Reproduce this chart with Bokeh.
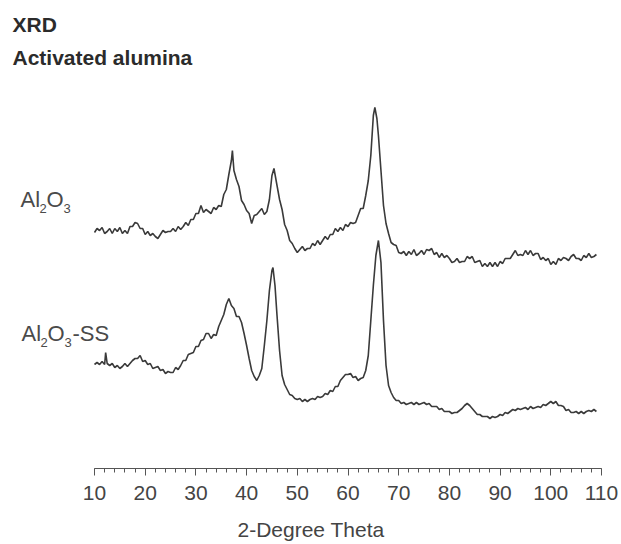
from bokeh.plotting import figure
from bokeh.models import Range1d, FixedTicker, Label, ColumnDataSource
from bokeh.embed import file_html
from bokeh.resources import INLINE

# ---------------- data (arbitrary intensity units) ----------------
al2o3_theta = [10, 10.5, 11, 11.5, 12, 12.5, 13, 13.5, 14, 14.5, 15, 15.5, 16, 16.5, 17, 17.5, 18, 18.5, 19, 19.5,
               20, 20.5, 21, 21.5, 22, 22.5, 23, 23.5, 24, 24.5, 25, 25.5, 26, 26.5, 27, 27.5, 28, 28.5, 29, 29.5,
               30, 30.5, 31, 31.5, 32, 32.5, 33, 33.5, 34, 34.5, 35, 35.5, 36, 36.5, 37, 37.2, 37.5, 38, 38.5, 39, 39.5,
               40, 40.5, 41, 41.5, 42, 42.5, 43, 43.5, 44, 44.5, 45, 45.4, 46, 46.5, 47, 47.5, 48, 48.5, 49, 49.5,
               50, 50.5, 51, 51.5, 52, 52.5, 53, 53.5, 54, 54.5, 55, 55.5, 56, 56.5, 57, 57.5, 58, 58.5, 59, 59.5,
               60, 60.5, 61, 61.5, 62, 62.5, 63, 63.5, 64, 64.5, 65, 65.3, 65.7, 66, 66.5, 67, 67.5, 68, 68.5, 69, 69.5,
               70, 70.5, 71, 71.5, 72, 72.5, 73, 73.5, 74, 74.5, 75, 75.5, 76, 76.5, 77, 77.5, 78, 78.5, 79, 79.5,
               80, 80.5, 81, 81.5, 82, 82.5, 83, 83.5, 84, 84.5, 85, 85.5, 86, 86.5, 87, 87.5, 88, 88.5, 89, 89.5,
               90, 90.5, 91, 91.5, 92, 92.5, 93, 93.5, 94, 94.5, 95, 95.5, 96, 96.5, 97, 97.5, 98, 98.5, 99, 99.5,
               100, 100.5, 101, 101.5, 102, 102.5, 103, 103.5, 104, 104.5, 105, 105.5, 106, 106.5, 107, 107.5, 108, 108.5, 109]
al2o3_int = [46, 50, 48, 51, 45, 47, 50, 45, 50, 47, 51, 45, 48, 45, 52, 52, 56, 55, 50, 50,
             44, 47, 43, 45, 42, 40, 44, 48, 46, 47, 47, 50, 47, 52, 49, 52, 56, 53, 59, 59,
             65, 65, 73, 66, 69, 67, 65, 71, 69, 73, 72, 84, 89, 104, 118, 128, 108, 99, 92, 78, 74,
             68, 65, 55, 63, 64, 67, 70, 64, 67, 79, 103, 110, 93, 79, 69, 54, 48, 38, 35, 30,
             26, 29, 32, 28, 30, 30, 35, 33, 38, 34, 38, 42, 39, 44, 44, 50, 47, 51, 48, 54,
             52, 56, 55, 56, 63, 70, 70, 83, 98, 123, 163, 171, 160, 143, 108, 73, 55, 45, 36, 34, 33,
             26, 25, 27, 23, 27, 24, 29, 23, 25, 28, 24, 29, 28, 30, 24, 26, 21, 25, 21, 23,
             20, 16, 17, 20, 16, 17, 17, 22, 20, 22, 16, 17, 18, 12, 15, 12, 16, 12, 16, 12,
             17, 15, 20, 20, 20, 24, 28, 23, 24, 23, 28, 24, 28, 23, 25, 25, 19, 21, 18, 20,
             14, 17, 14, 20, 18, 21, 20, 18, 22, 24, 20, 20, 18, 23, 21, 25, 21, 22, 24]

ss_theta = [10, 10.5, 11, 11.5, 12, 12.2, 12.5, 13, 13.5, 14, 14.5, 15, 15.5, 16, 16.5, 17, 17.5, 18, 18.5, 19, 19.5,
            20, 20.5, 21, 21.5, 22, 22.5, 23, 23.5, 24, 24.5, 25, 25.5, 26, 26.5, 27, 27.5, 28, 28.5, 29, 29.5,
            30, 30.5, 31, 31.5, 32, 32.5, 33, 33.5, 34, 34.5, 35, 35.5, 36, 36.5, 37, 37.5, 38, 38.5, 39, 39.5,
            40, 40.5, 41, 41.5, 42, 42.5, 43, 43.5, 44, 44.5, 45, 45.2, 45.6, 46, 46.5, 47, 47.5, 48, 48.5, 49, 49.5,
            50, 50.5, 51, 51.5, 52, 52.5, 53, 53.5, 54, 54.5, 55, 55.5, 56, 56.5, 57, 57.5, 58, 58.5, 59, 59.5,
            60, 60.5, 61, 61.5, 62, 62.5, 63, 63.5, 64, 64.5, 65, 65.5, 66, 66.5, 67, 67.5, 68, 68.5, 69, 69.5,
            70, 70.5, 71, 71.5, 72, 72.5, 73, 73.5, 74, 74.5, 75, 75.5, 76, 76.5, 77, 77.5, 78, 78.5, 79, 79.5,
            80, 80.5, 81, 81.5, 82, 82.5, 83, 83.5, 84, 84.5, 85, 85.5, 86, 86.5, 87, 87.5, 88, 88.5, 89, 89.5,
            90, 90.5, 91, 91.5, 92, 92.5, 93, 93.5, 94, 94.5, 95, 95.5, 96, 96.5, 97, 97.5, 98, 98.5, 99, 99.5,
            100, 100.5, 101, 101.5, 102, 102.5, 103, 103.5, 104, 104.5, 105, 105.5, 106, 106.5, 107, 107.5, 108, 108.5, 109]
ss_int = [64, 66, 64, 67, 64, 76, 65, 63, 65, 61, 63, 60, 62, 65, 62, 65, 68, 70, 70, 73, 67,
          68, 64, 65, 60, 61, 62, 58, 59, 55, 57, 56, 56, 61, 59, 63, 68, 68, 74, 75, 76,
          82, 82, 88, 89, 95, 95, 90, 94, 93, 102, 108, 114, 124, 130, 123, 120, 112, 112, 106, 95,
          83, 70, 58, 52, 48, 53, 60, 83, 108, 138, 158, 161, 143, 113, 78, 53, 44, 39, 34, 33, 30,
          29, 30, 27, 29, 27, 29, 30, 29, 32, 31, 32, 35, 34, 38, 37, 42, 42, 48, 51, 54,
          54, 55, 51, 52, 48, 50, 51, 58, 73, 108, 143, 173, 188, 166, 108, 63, 43, 36, 31, 28,
          28, 25, 26, 24, 25, 26, 24, 26, 24, 25, 26, 24, 25, 22, 22, 22, 19, 20, 17, 17,
          17, 15, 16, 16, 18, 20, 23, 25, 23, 20, 17, 14, 14, 12, 12, 12, 10, 12, 11, 12,
          14, 13, 16, 15, 17, 19, 18, 20, 19, 20, 21, 19, 22, 20, 21, 22, 21, 24, 23, 25,
          27, 25, 27, 23, 23, 22, 18, 19, 16, 16, 17, 15, 17, 15, 17, 18, 17, 19, 17]

al2o3_offset = 190   # vertical stacking offset of the upper pattern
ss_offset = 40       # vertical stacking offset of the lower pattern

tick_values = [10, 20, 30, 40, 50, 60, 70, 80, 90, 100, 110]
minor_tick_values = list(range(10, 111, 2))

# ---------------- layout ----------------
W, H = 621, 544
FRAME_H = 468
PX_PER_DEG = 5.07
X0 = 10 - 94 / PX_PER_DEG


def dx(px):
    return X0 + px / PX_PER_DEG


def dy(py):
    return FRAME_H - py


p = figure(width=W, height=H, x_range=Range1d(X0, X0 + W / PX_PER_DEG), y_range=Range1d(0, FRAME_H),
           output_backend="svg", toolbar_location=None, y_axis_location=None,
           min_border_left=0, min_border_right=0, min_border_top=0, min_border_bottom=H - FRAME_H)
p.outline_line_color = None
p.xgrid.visible = False
p.ygrid.visible = False
p.background_fill_color = "white"
p.border_fill_color = "white"

curve_color = "#3a3a3a"
src_al = ColumnDataSource(dict(x=al2o3_theta, y=[v + al2o3_offset for v in al2o3_int]))
src_ss = ColumnDataSource(dict(x=ss_theta, y=[v + ss_offset for v in ss_int]))
p.line("x", "y", source=src_al, line_color=curve_color, line_width=1.6)
p.line("x", "y", source=src_ss, line_color=curve_color, line_width=1.6)

ax = p.xaxis[0]
ax.bounds = (10, 110)
ax.ticker = FixedTicker(ticks=tick_values, minor_ticks=minor_tick_values)
ax.axis_line_color = "#555555"
ax.axis_line_width = 1.2
ax.major_tick_line_color = "#555555"
ax.minor_tick_line_color = "#555555"
ax.major_tick_in = 0
ax.major_tick_out = 7
ax.minor_tick_in = 0
ax.minor_tick_out = 4
ax.major_label_text_font = "Liberation Sans"
ax.major_label_text_font_size = "21px"
ax.major_label_text_color = "#444444"
ax.major_label_standoff = 10
ax.axis_label = "2-Degree Theta"
ax.axis_label_text_font = "Liberation Sans"
ax.axis_label_text_font_size = "21px"
ax.axis_label_text_font_style = "normal"
ax.axis_label_text_color = "#444444"
ax.axis_label_standoff = 15

FONT = "Liberation Sans"


def add_text(txt, px, py, size, color, style="normal"):
    p.add_layout(Label(x=dx(px), y=dy(py), text=txt, text_font=FONT, text_font_size=size,
                       text_color=color, text_font_style=style, text_align="left",
                       text_baseline="alphabetic"))


# titles
add_text("XRD", 12, 24, "21px", "#2b2b2b", "bold")
add_text("Activated alumina", 12, 57, "21px", "#2b2b2b", "bold")

# series labels with subscripts
lab_col = "#4a4a4a"
add_text("Al", 20, 199, "22px", lab_col)
add_text("2", 39, 208, "13px", lab_col)
add_text("O", 46, 199, "22px", lab_col)
add_text("3", 63, 208, "13px", lab_col)

add_text("Al", 21, 333, "22px", lab_col)
add_text("2", 40, 342, "13px", lab_col)
add_text("O", 47, 333, "22px", lab_col)
add_text("3", 64, 342, "13px", lab_col)
add_text("-SS", 72, 333, "22px", lab_col)

open("out.html", "w").write(file_html(p, INLINE))
